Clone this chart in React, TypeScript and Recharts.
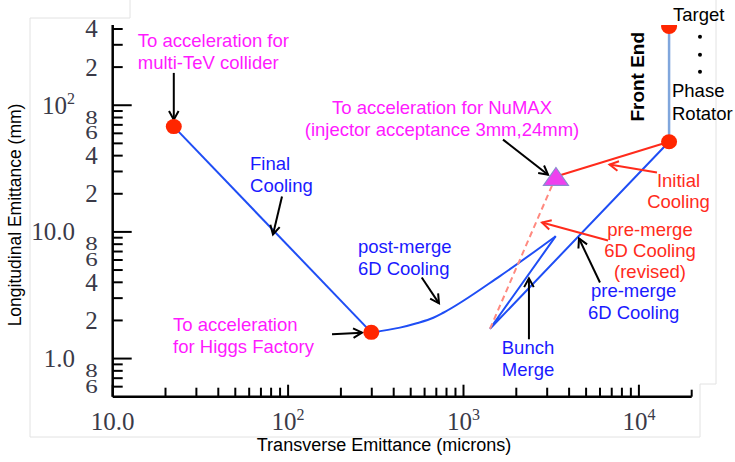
import React from 'react';
import {
  ComposedChart,
  XAxis,
  YAxis,
  Line,
  Scatter,
  ReferenceLine,
  ReferenceDot,
} from 'recharts';

const W = 735;
const H = 462;

// emittance path, x = transverse (microns), y = longitudinal (mm)
const finalCooling = [
  { x: 22.3, y: 67.8 },
  { x: 298, y: 1.61 },
];
const postMergeCooling = [
  { x: 298, y: 1.61 },
  { x: 434, y: 1.755 },
  { x: 541, y: 1.9 },
  { x: 673, y: 2.1 },
  { x: 767, y: 2.3 },
  { x: 1614, y: 4.48 },
  { x: 3356, y: 9.25 },
];
// bunch merge (tip -> bottom) then pre-merge 6D cooling up to the front end
const bunchMergePreMerge = [
  { x: 3356, y: 9.25 },
  { x: 1416, y: 1.72 },
  { x: 14860, y: 51.5 },
];
const frontEnd = [
  { x: 14860, y: 418 },
  { x: 14860, y: 51.5 },
];
const initialCooling = [
  { x: 14860, y: 51.5 },
  { x: 3366, y: 27.4 },
];
const revisedPreMerge = [
  { x: 3366, y: 27.4 },
  { x: 1416, y: 1.72 },
];
const stagePoints = [
  { x: 22.3, y: 67.8 },
  { x: 298, y: 1.61 },
  { x: 14860, y: 51.5 },
  { x: 14860, y: 418 },
];
const numaxPoint = [{ x: 3366, y: 27.4 }];

const xTicks = [
  10, 20, 30, 40, 50, 60, 70, 80, 90,
  100, 200, 300, 400, 500, 600, 700, 800, 900,
  1000, 2000, 3000, 4000, 5000, 6000, 7000, 8000, 9000,
  10000, 20000,
];
const xTickLabels: Record<number, string> = { 10: '10.0', 100: '10^2', 1000: '10^3', 10000: '10^4' };
const yTicks = [
  0.6, 0.7, 0.8, 0.9,
  1, 2, 3, 4, 5, 6, 7, 8, 9,
  10, 20, 30, 40, 50, 60, 70, 80, 90,
  100, 200, 300, 400,
];
const yTickLabels: Record<number, string> = {
  0.6: '6', 0.8: '8', 1: '1.0', 2: '2', 4: '4', 6: '6', 8: '8',
  10: '10.0', 20: '2', 40: '4', 60: '6', 80: '8', 100: '10^2', 200: '2', 400: '4',
};
const DECADES = [1, 10, 100, 1000, 10000];

const MAGENTA = '#ff1aff';
const BLUE_TEXT = '#1a1aff';
const BLUE_LINE = '#1f4ef5';
const RED = '#ff2b1c';
const BLACK = '#000';

type Arrow = { from: [number, number]; to: [number, number]; color: string };
const arrows: Arrow[] = [
  { from: [22.3, 180], to: [22.3, 76.9], color: BLACK },
  { from: [92.3, 19.0], to: [82.0, 9.54], color: BLACK },
  { from: [178, 1.554], to: [264, 1.6], color: BLACK },
  { from: [578, 4.37], to: [725, 2.73], color: BLACK },
  { from: [1680, 53.5], to: [3034, 28.3], color: BLACK },
  { from: [12680, 29.4], to: [6804, 34.0], color: RED },
  { from: [6668, 8.55], to: [2803, 11.86], color: RED },
  { from: [5998, 3.99], to: [4554, 8.87], color: BLACK },
  { from: [2361, 1.42], to: [2361, 4.3], color: BLACK },
];

type Note = { x: number; y: number; lines: string[]; color: string; anchor: 'start' | 'middle'; gap?: number };
const notes: Note[] = [
  { x: 13.9, y: 289, lines: ['To acceleration for', 'multi-TeV collider'], color: MAGENTA, anchor: 'start' },
  { x: 60.7, y: 31.0, lines: ['Final', 'Cooling'], color: BLUE_TEXT, anchor: 'start' },
  { x: 22.1, y: 1.64, lines: ['To acceleration', 'for Higgs Factory'], color: MAGENTA, anchor: 'start' },
  { x: 250, y: 6.76, lines: ['post-merge', '6D Cooling'], color: BLUE_TEXT, anchor: 'start' },
  { x: 754, y: 85.7, lines: ['To acceleration for NuMAX', '(injector acceptance 3mm,24mm)'], color: MAGENTA, anchor: 'middle' },
  { x: 15650, y: 463, lines: ['Target'], color: BLACK, anchor: 'start' },
  { x: 15440, y: 116.7, lines: ['Phase', 'Rotator'], color: BLACK, anchor: 'start', gap: 23 },
  { x: 16820, y: 22.8, lines: ['Initial', 'Cooling'], color: RED, anchor: 'middle', gap: 21 },
  { x: 11570, y: 9.2, lines: ['pre-merge', '6D Cooling', '(revised)'], color: RED, anchor: 'middle', gap: 21 },
  { x: 9333, y: 3.07, lines: ['pre-merge', '6D Cooling'], color: BLUE_TEXT, anchor: 'middle' },
  { x: 2332, y: 1.081, lines: ['Bunch', 'Merge'], color: BLUE_TEXT, anchor: 'middle' },
];
const ellipsisDots = [
  { x: 22300, y: 347 },
  { x: 22300, y: 250 },
  { x: 22300, y: 184 },
];

const SANS = 'Liberation Sans, Arial, sans-serif';
const SERIF = 'Liberation Serif, Times New Roman, serif';
const TICK_COLOR = '#3a3a48';

function TickText({
  x,
  y,
  text,
  anchor,
  squash = 1,
}: {
  x: number;
  y: number;
  text: string;
  anchor: 'start' | 'middle' | 'end';
  squash?: number;
}) {
  const [base, exp] = text.split('^');
  return (
    <text
      x={0}
      y={0}
      transform={`translate(${x},${y}) scale(1,${squash})`}
      textAnchor={anchor}
      fontFamily={SERIF}
      fontSize={25}
      fill={TICK_COLOR}
    >
      {base}
      {exp && (
        <tspan dy={-10} fontSize={16}>
          {exp}
        </tspan>
      )}
    </text>
  );
}

const XTick = (props: any) => {
  const { x, y, payload } = props;
  const v = payload.value as number;
  const label = xTickLabels[v];
  const len = DECADES.includes(v) ? 12 : v === 20000 ? 7 : 9;
  return (
    <g>
      <line x1={x} x2={x} y1={y} y2={y - len} stroke={BLACK} strokeWidth={2} />
      {label && <TickText x={x} y={y + 33.5} text={label} anchor="middle" />}
    </g>
  );
};

const YTick = (props: any) => {
  const { x, y, payload } = props;
  const v = payload.value as number;
  const label = yTickLabels[v];
  const major = DECADES.includes(v);
  // the 8 / 6 labels under each decade are squeezed in the original
  const lead = String(v)[0];
  const squash = !major && (lead === '8' || lead === '6' || v === 0.8 || v === 0.6) ? 0.72 : 1;
  return (
    <g>
      <line x1={x} x2={x + (major ? 19 : 10)} y1={y} y2={y} stroke={BLACK} strokeWidth={2} />
      {label && (
        <TickText x={major ? x - 37.7 : x - 15} y={y + 8.5 * squash} text={label} anchor="end" squash={squash} />
      )}
    </g>
  );
};

const arrowShape = (color: string) => (p: any) => {
  const { x1, y1, x2, y2 } = p;
  const a = Math.atan2(y2 - y1, x2 - x1);
  const h = 10;
  const s = 0.5;
  const ax = x2 - h * Math.cos(a - s);
  const ay = y2 - h * Math.sin(a - s);
  const bx = x2 - h * Math.cos(a + s);
  const by = y2 - h * Math.sin(a + s);
  return (
    <g stroke={color} strokeWidth={2} fill="none">
      <line x1={x1} y1={y1} x2={x2} y2={y2} />
      <polyline points={`${ax},${ay} ${x2},${y2} ${bx},${by}`} />
    </g>
  );
};

const noteShape = (n: Note) => (p: any) => (
  <text x={p.cx} y={p.cy} textAnchor={n.anchor} fill={n.color} fontFamily={SANS} fontSize={18.5}>
    {n.lines.map((l, i) => (
      <tspan key={i} x={p.cx} dy={i === 0 ? 0 : n.gap ?? 22}>
        {l}
      </tspan>
    ))}
  </text>
);

const StageDot = (p: any) => <ellipse cx={p.cx} cy={p.cy} rx={8} ry={7.5} fill="#ff2600" />;
const Triangle = (p: any) => (
  <polygon
    points={`${p.cx - 12.5},${p.cy + 9} ${p.cx + 12.5},${p.cy + 9} ${p.cx},${p.cy - 9}`}
    fill="#ee40ee"
    stroke="#8a8ad0"
    strokeWidth={1.2}
  />
);

export default function App() {
  return (
    <div style={{ position: 'absolute', left: 0, top: 0, width: W, height: H, background: '#fff' }}>
      <svg width={W} height={H} style={{ position: 'absolute', left: 0, top: 0 }}>
        <polyline
          points="130,0 130,18 30,18 30,437 700,437 700,384 716,384 716,0"
          fill="none"
          stroke="#e2e2e2"
          strokeWidth={1}
        />
      </svg>
      <div style={{ position: 'absolute', left: 0, top: 0 }}>
        <ComposedChart width={W} height={H} margin={{ top: 25, right: 43.3, bottom: 0, left: 0 }}>
          <XAxis
            dataKey="x"
            type="number"
            scale="log"
            domain={[10, 20000]}
            allowDataOverflow
            ticks={xTicks}
            interval={0}
            height={65.3}
            tickSize={0}
            tickMargin={0}
            tickLine={false}
            axisLine={{ stroke: BLACK, strokeWidth: 2.5 }}
            tick={XTick}
            label={() => (
              <text x={384} y={451} textAnchor="middle" fontFamily={SANS} fontSize={18} fill={BLACK}>
                Transverse Emittance (microns)
              </text>
            )}
          />
          <YAxis
            dataKey="y"
            type="number"
            scale="log"
            domain={[0.5, 430]}
            allowDataOverflow
            ticks={yTicks}
            interval={0}
            width={112.7}
            tickSize={0}
            tickMargin={0}
            tickLine={false}
            axisLine={{ stroke: BLACK, strokeWidth: 2.5 }}
            tick={YTick}
            label={() => (
              <text
                x={21}
                y={215}
                textAnchor="middle"
                fontFamily={SANS}
                fontSize={17.5}
                fill={BLACK}
                transform="rotate(-90, 21, 215)"
              >
                Longitudinal Emittance (mm)
              </text>
            )}
          />
          <Line data={frontEnd} dataKey="y" stroke="#80a6dc" strokeWidth={2.5} dot={false} activeDot={false} isAnimationActive={false} />
          <Line data={finalCooling} dataKey="y" stroke={BLUE_LINE} strokeWidth={2} dot={false} activeDot={false} isAnimationActive={false} />
          <Line data={postMergeCooling} dataKey="y" type="monotoneX" stroke={BLUE_LINE} strokeWidth={2} dot={false} activeDot={false} isAnimationActive={false} />
          <Line data={bunchMergePreMerge} dataKey="y" stroke={BLUE_LINE} strokeWidth={2} dot={false} activeDot={false} isAnimationActive={false} />
          <Line data={revisedPreMerge} dataKey="y" stroke="#ff8a80" strokeWidth={2} strokeDasharray="6 4" dot={false} activeDot={false} isAnimationActive={false} />
          <Line data={initialCooling} dataKey="y" stroke={RED} strokeWidth={2} dot={false} activeDot={false} isAnimationActive={false} />
          <Scatter data={stagePoints} dataKey="y" shape={StageDot} isAnimationActive={false} />
          <Scatter data={numaxPoint} dataKey="y" shape={Triangle} isAnimationActive={false} />
          {arrows.map((a, i) => (
            <ReferenceLine
              key={`a${i}`}
              segment={[{ x: a.from[0], y: a.from[1] }, { x: a.to[0], y: a.to[1] }]}
              ifOverflow="visible"
              shape={arrowShape(a.color)}
            />
          ))}
          {notes.map((n, i) => (
            <ReferenceDot key={`n${i}`} x={n.x} y={n.y} r={0} ifOverflow="visible" shape={noteShape(n)} />
          ))}
          {ellipsisDots.map((d, i) => (
            <ReferenceDot key={`d${i}`} x={d.x} y={d.y} r={2} fill={BLACK} stroke="none" ifOverflow="visible" />
          ))}
          <ReferenceDot
            x={10690}
            y={167.8}
            r={0}
            ifOverflow="visible"
            shape={(p: any) => (
              <text
                x={p.cx}
                y={p.cy}
                textAnchor="middle"
                fontFamily={SANS}
                fontWeight="bold"
                fontSize={19}
                fill={BLACK}
                transform={`rotate(-90, ${p.cx}, ${p.cy})`}
              >
                Front End
              </text>
            )}
          />
        </ComposedChart>
      </div>
    </div>
  );
}
